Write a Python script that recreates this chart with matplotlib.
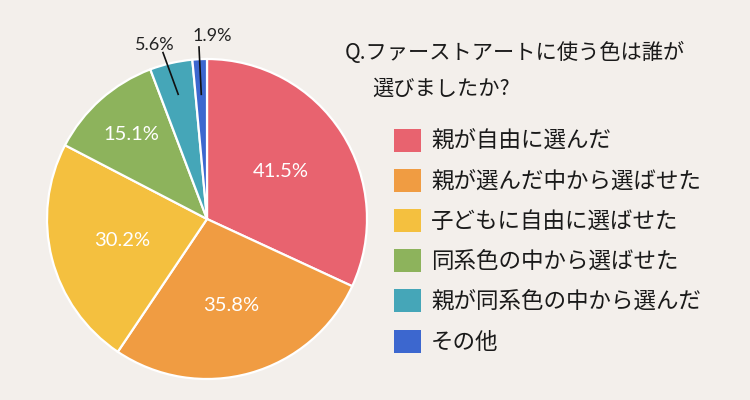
import numpy as np
import matplotlib
matplotlib.use("Agg")
import matplotlib.pyplot as plt
from matplotlib.patches import Patch

plt.rcParams['font.family'] = ['Noto Sans CJK JP', 'DejaVu Sans']

categories = ["親が自由に選んだ", "親が選んだ中から選ばせた", "子どもに自由に選ばせた",
              "同系色の中から選ばせた", "親が同系色の中から選んだ", "その他"]
values = [41.5, 35.8, 30.2, 15.1, 5.6, 1.9]
colors = ["#E8636F", "#F09C42", "#F4C03F", "#8DB35C", "#45A6B8", "#3C67CF"]
title_lines = ["Q.ファーストアートに使う色は誰が", "選びましたか?"]

bg = "#F3EFEB"
fig = plt.figure(figsize=(7.5, 4.0), dpi=100, facecolor=bg)

# pie axes: centre (207,219) px from top, radius 160 px
cx, cy, R = 207, 219, 160
ax = fig.add_axes([(cx - R) / 750, (400 - cy - R) / 400, 2 * R / 750, 2 * R / 400])
ax.set_facecolor(bg)
wedges, _ = ax.pie(values, colors=colors, startangle=90, counterclock=False,
                   radius=1.0, wedgeprops=dict(edgecolor="white", linewidth=1.6))
ax.set_xlim(-1, 1)
ax.set_ylim(-1, 1)
ax.set_aspect("equal")
ax.axis("off")

inside_r = [0.55, 0.56, 0.55, 0.71]
outside_text = {4: (-0.325, 1.04), 5: (0.03, 1.095)}
outside_end = {4: (-0.275, 1.04), 5: (-0.05, 1.075)}

for i, (w, v) in enumerate(zip(wedges, values)):
    mid = np.deg2rad((w.theta1 + w.theta2) / 2)
    lab = f"{v:.1f}%"
    if i < 4:
        r = inside_r[i]
        ax.text(r * np.cos(mid), r * np.sin(mid), lab, color="white",
                fontsize=14.5, ha="center", va="center", family=["Lato", "DejaVu Sans"])
    else:
        r0 = 0.8 if i == 4 else 0.78
        x0, y0 = r0 * np.cos(mid), r0 * np.sin(mid)
        x1, y1 = outside_end[i]
        ax.plot([x0, x1], [y0, y1], color="#111111", lw=1.2, clip_on=False)
        tx, ty = outside_text[i]
        ax.text(tx, ty, lab, color="#222222", fontsize=13, ha="center", va="bottom",
                family=["Lato", "DejaVu Sans"])

fig.text(345 / 750, 1 - 53 / 400, title_lines[0], fontsize=15.3, ha="left", va="center", color="#1a1a1a")
fig.text(372 / 750, 1 - 89 / 400, title_lines[1], fontsize=15.3, ha="left", va="center", color="#1a1a1a")

handles = [Patch(facecolor=c, edgecolor="none") for c in colors]
fig.legend(handles, categories, loc="upper left", bbox_to_anchor=(394 / 750, 1 - 129 / 400),
           frameon=False, fontsize=16.2, handlelength=1.2, handleheight=1.2,
           handletextpad=0.45, labelspacing=0.71, borderaxespad=0, borderpad=0,
           labelcolor="#1a1a1a")

fig.savefig("out.png", dpi=100, facecolor=bg)
